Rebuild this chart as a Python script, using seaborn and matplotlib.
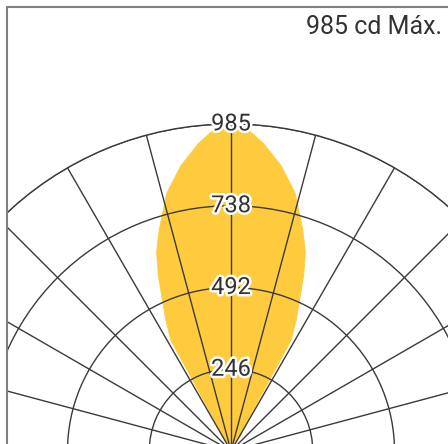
import matplotlib.pyplot as plt
import matplotlib.patheffects as pe
import numpy as np
import seaborn as sns

# half of the beam (0 = straight down the axis), mirrored for the other side
beam_angles = [0, 3, 6, 10, 14, 18, 20.5, 22.5, 24.5, 26.5, 28.5, 29.5]
beam_cd = [985, 970, 932, 872, 800, 700, 640, 572, 497, 440, 380, 0]

ring_values = [246.25, 492.5, 738.75, 985]
ring_labels = ["246", "492", "738", "985"]
spoke_step = 15
max_label = "985 cd Máx."

yellow = "#FECB3F"
grid_col = "#3a3a3a"

sns.set_style("white")
plt.rcParams["font.family"] = ["Roboto", "DejaVu Sans"]

W, H = 448, 444
fig = plt.figure(figsize=(W / 100, H / 100), dpi=100)

# origin of the polar grid sits just below the bottom edge
cx, cy, rad = 231, H - 451, 327
ax = fig.add_axes([(cx - rad) / W, (cy - rad) / H, 2 * rad / W, 2 * rad / H],
                  projection="polar")
ax.set_theta_zero_location("N")
ax.set_theta_direction(-1)

ang = np.array(beam_angles)
cd = np.array(beam_cd)
theta = np.deg2rad(np.concatenate([-ang[::-1], ang[1:]]))
r = np.concatenate([cd[::-1], cd[1:]])

ax.fill(theta, r, color=yellow, lw=0, zorder=1)
sns.lineplot(x=theta, y=r, sort=False, ax=ax, color=yellow, lw=0.6, zorder=1)

ax.set_rlim(0, ring_values[-1])
ax.set_thetagrids(np.arange(0, 360, spoke_step), labels=[])
ax.set_rgrids(ring_values, labels=[])
ax.set_axisbelow(False)
ax.grid(True, color=grid_col, lw=1.0)
ax.spines["polar"].set_color(grid_col)
ax.spines["polar"].set_linewidth(1.0)
ax.set_xlabel("")
ax.set_ylabel("")

for val, lab in zip(ring_values, ring_labels):
    ax.text(0, val, lab, ha="center", va="center", fontsize=17,
            color="#333333", zorder=5,
            path_effects=[pe.withStroke(linewidth=3.5, foreground="white")])

# everything outside the frame is cut away
edge = 7.3
fig.add_artist(plt.Rectangle((0, 0), edge / W, 1, color="white", lw=0,
                             transform=fig.transFigure, zorder=2))
fig.add_artist(plt.Rectangle((0, 1 - edge / H), 1, edge / H, color="white", lw=0,
                             transform=fig.transFigure, zorder=2))

# frame: only top and left edges fall inside the picture
fig.add_artist(plt.Line2D([edge / W, edge / W], [0, 1 - edge / H],
                          color="#808080", lw=1.5, transform=fig.transFigure, zorder=3))
fig.add_artist(plt.Line2D([edge / W, 1], [1 - edge / H, 1 - edge / H],
                          color="#808080", lw=1.5, transform=fig.transFigure, zorder=3))

fig.text(442 / W, 1 - 27 / H, max_label, ha="right", va="center",
         fontsize=18, color="#333333", zorder=4)

fig.savefig("out.png", dpi=100)
plt.close(fig)
